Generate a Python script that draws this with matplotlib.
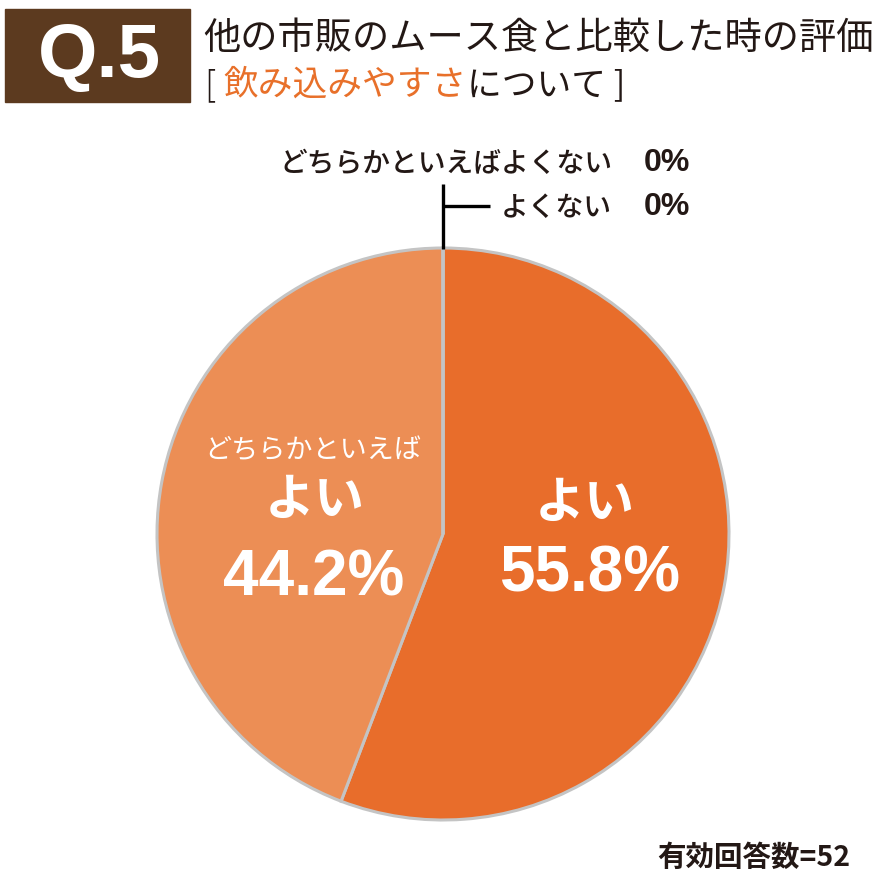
import matplotlib.pyplot as plt
from matplotlib.patches import Rectangle

JP = ['Noto Sans CJK JP', 'DejaVu Sans']
NUM = ['Liberation Sans', 'Noto Sans CJK JP']
plt.rcParams['font.family'] = JP

# データ
labels = ['よい', 'どちらかといえばよい', 'どちらかといえばよくない', 'よくない']
values = [55.8, 44.2, 0, 0]
colors = ['#E86D2B', '#EC8E55', '#EC8E55', '#EC8E55']
n_answers = 52

W, H = 886, 887
fig = plt.figure(figsize=(W / 100, H / 100), dpi=100)
ax = fig.add_axes([0, 0, 1, 1])


def Y(y):
    return H - y


# 見出し
ax.add_patch(Rectangle((5, Y(103)), 185, 93, color='#5C3A1F'))
ax.text(99, Y(57), 'Q.5', color='white', fontsize=55, fontweight='bold',
        family=NUM, ha='center', va='center')
ax.text(203, Y(38), '他の市販のムース食と比較した時の評価', fontsize=26.8,
        color='#231815', va='center', ha='left')
t1 = ax.text(205, Y(85), '[ ', fontsize=25, color='#231815', va='center',
             ha='left', fontweight='light')
t2 = ax.annotate('飲み込みやすさ', xy=(1, 0), xycoords=t1, va='bottom',
                 fontsize=25, color='#E8702A')
ax.annotate('について ]', xy=(1, 0), xycoords=t2, va='bottom',
            fontsize=25, color='#231815')

# 円グラフ
cx, cy, r = 443, 535, 286
ax.pie(values, colors=colors, startangle=90, counterclock=False,
       center=(cx, Y(cy)), radius=r, frame=True,
       wedgeprops=dict(edgecolor='#C4C4C4', linewidth=2.2))
ax.set_xlim(0, W)
ax.set_ylim(0, H)
ax.axis('off')

# 0% のラベル
ax.plot([cx, cx], [Y(185), Y(250)], color='black', lw=2.4, solid_capstyle='butt')
ax.plot([cx, 490], [Y(207), Y(207)], color='black', lw=2.4, solid_capstyle='butt')
ax.text(612, Y(163), labels[2], fontsize=20, ha='right', va='center',
        color='#231815', fontweight='medium')
ax.text(690, Y(163), f'{values[2]:.0f}%', fontsize=23, fontweight='bold',
        family=NUM, ha='right', va='center', color='#231815')
ax.text(612, Y(207), labels[3], fontsize=20, ha='right', va='center',
        color='#231815', fontweight='medium')
ax.text(690, Y(207), f'{values[3]:.0f}%', fontsize=23, fontweight='bold',
        family=NUM, ha='right', va='center', color='#231815')

# 円の中のラベル
ax.text(313, Y(450), 'どちらかといえば', fontsize=19.5, color='white',
        ha='center', va='center')
ax.text(315, Y(500), 'よい', fontsize=36, fontweight='bold', color='white',
        ha='center', va='center')
ax.text(314, Y(578), f'{values[1]}%', fontsize=46, fontweight='bold', family=NUM,
        color='white', ha='center', va='center')
ax.text(585, Y(503), labels[0], fontsize=36, fontweight='bold', color='white',
        ha='center', va='center')
ax.text(590, Y(575), f'{values[0]}%', fontsize=46, fontweight='bold', family=NUM,
        color='white', ha='center', va='center')

# 回答数
ax.text(850, Y(858), f'有効回答数={n_answers}', fontsize=20.5, fontweight='bold',
        ha='right', va='center', color='#231815')

fig.savefig('out.png', dpi=100, facecolor='white')
